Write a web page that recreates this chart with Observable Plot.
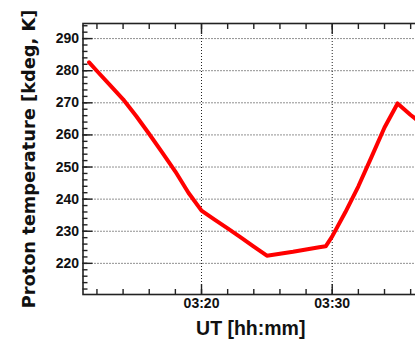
<!DOCTYPE html>
<html><head><meta charset="utf-8">
<script src="https://cdn.jsdelivr.net/npm/d3@7"></script>
<script src="https://cdn.jsdelivr.net/npm/@observablehq/plot@0.6"></script>
<style>
html,body{margin:0;padding:0;background:#fff;overflow:hidden;width:415px;height:342px}
#chart svg{max-width:none !important;display:block}
</style>
</head><body><div id="chart"></div>
<script>
// Data (UT time, proton temperature in kdeg K)
const times = ["03:11:24","03:12:00","03:13:00","03:14:00","03:15:00","03:16:00","03:17:00","03:18:00","03:19:00","03:20:00",
               "03:21:00","03:22:00","03:23:00","03:24:00","03:25:00","03:26:00","03:27:00","03:28:00","03:29:00","03:29:30",
               "03:30:00","03:31:00","03:32:00","03:33:00","03:34:00","03:35:00","03:36:00","03:36:36"];
const temps = [282.6, 279.9, 275.5, 271.1, 265.9, 260.3, 254.5, 248.6, 242.0, 236.4,
               233.6, 230.9, 228.1, 225.2, 222.4, 223.0, 223.6, 224.3, 225.0, 225.3,
               228.4, 235.9, 244.0, 253.1, 262.3, 269.8, 266.2, 264.3];

// Axes
const xMajorLabels = ["03:20:00", "03:30:00"];
const xMinorLabels = ["03:12:00","03:14:00","03:16:00","03:18:00","03:20:00","03:22:00","03:24:00","03:26:00","03:28:00","03:30:00","03:32:00","03:34:00","03:36:00"];
const xDomainLabels = ["03:10:56", "03:36:36"];
const yMajor = [220, 230, 240, 250, 260, 270, 280, 290];
const yMinor = [212,214,216,218,220,222,224,226,228,230,232,234,236,238,240,242,244,246,248,250,252,254,256,258,260,262,264,266,268,270,272,274,276,278,280,282,284,286,288,290,292,294];
const yDomain = [210.3, 294.7];

const parse = d3.utcParse("%H:%M:%S");
const data = times.map((t, i) => ({t: parse(t), v: temps[i]}));
const xMajor = xMajorLabels.map(parse);
const xMinor = xMinorLabels.map(parse);
const xDomain = xDomainLabels.map(parse);

const grid = {stroke: "#222", strokeOpacity: 1, strokeWidth: 1, strokeDasharray: "1,2"};
const tk = {text: null, label: null, stroke: "#222", strokeWidth: 1.4};
const narrow = "'Liberation Sans Narrow', 'Arial Narrow', 'Liberation Sans', sans-serif";

const plot = Plot.plot({
  width: 420, height: 342,
  marginLeft: 82.5, marginRight: 2, marginTop: 23, marginBottom: 48,
  x: {type: "utc", domain: xDomain},
  y: {domain: yDomain},
  style: {fontFamily: narrow, fontWeight: "bold", fontSize: "14px", color: "#111", background: "#fff"},
  marks: [
    Plot.gridX(xMajor, grid),
    Plot.gridY(yMajor, grid),
    Plot.axisX(xMinor, {...tk, tickSize: -5}),
    Plot.axisX(xMajor, {...tk, tickSize: -10}),
    Plot.axisX(xMinor, {...tk, anchor: "top", tickSize: -5}),
    Plot.axisX(xMajor, {...tk, anchor: "top", tickSize: -10}),
    Plot.axisY(yMinor, {...tk, tickSize: -5}),
    Plot.axisY(yMajor, {...tk, tickSize: -10}),
    Plot.axisX(xMajor, {tickSize: 0, tickPadding: 4, tickFormat: d3.utcFormat("%H:%M"), label: null, fontSize: 14, fontFamily: narrow}),
    Plot.axisY(yMajor, {tickSize: 0, tickPadding: 4, label: null, fontSize: 14, fontFamily: narrow}),
    Plot.axisX([], {label: "UT [hh:mm]", labelAnchor: "center", labelOffset: 40, labelArrow: "none", fontSize: 19.5, fontFamily: narrow}),
    Plot.axisY([], {label: "Proton temperature [kdeg, K]", labelAnchor: "center", labelOffset: 61, labelArrow: "none", fontSize: 17.8, fontFamily: "'DejaVu Sans', sans-serif"}),
    Plot.frame({stroke: "#222", strokeWidth: 1.6}),
    Plot.line(data, {x: "t", y: "v", stroke: "#ff0000", strokeWidth: 4, strokeLinejoin: "round", strokeLinecap: "round"})
  ]
});
document.getElementById("chart").appendChild(plot);
</script>
</body></html>
